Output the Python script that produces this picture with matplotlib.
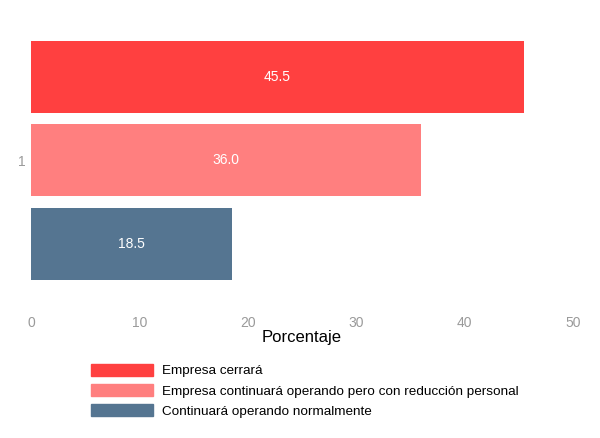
import matplotlib.pyplot as plt
from matplotlib.patches import Patch

plt.rcParams['font.family'] = ['Liberation Sans', 'DejaVu Sans']

# Daten
categorias = ["Empresa cerrará",
              "Empresa continuará operando pero con reducción personal",
              "Continuará operando normalmente"]
porcentajes = [45.5, 36.0, 18.5]
colores = ["#FF4040", "#FF7F7F", "#557591"]
xticks = [0, 10, 20, 30, 40, 50]

fig = plt.figure(figsize=(6, 4.38), dpi=100)
ax = fig.add_axes([31 / 600, 0.329, 542 / 600, 0.610])

n = len(porcentajes)
pos = [n - 1 - i for i in range(n)]
ax.barh(pos, porcentajes, height=0.86, color=colores)
for p, v in zip(pos, porcentajes):
    ax.text(v / 2, p, f"{v:.1f}", color="white", ha="center", va="center", fontsize=10)

ax.set_xlim(0, 50)
ax.set_ylim(-0.6, 2.6)
ax.set_xticks(xticks)
ax.set_yticks([1])
ax.set_yticklabels(["1"])
ax.tick_params(axis="x", length=0, pad=16, colors="#9a9a9a", labelsize=10)
ax.tick_params(axis="y", length=0, pad=4, colors="#9a9a9a", labelsize=10)
for s in ax.spines.values():
    s.set_visible(False)
ax.set_xlabel("Porcentaje", fontsize=12, labelpad=0)

handles = [Patch(color=c, label=l) for c, l in zip(colores, categorias)]
fig.legend(handles=handles, loc="upper left", bbox_to_anchor=(91 / 600, 1 - 363.5 / 438),
           frameon=False, fontsize=9.7, handlelength=4.6, handleheight=1.0,
           labelspacing=0.5, handletextpad=0.7, borderpad=0, borderaxespad=0)

plt.savefig("out.png", dpi=100)
